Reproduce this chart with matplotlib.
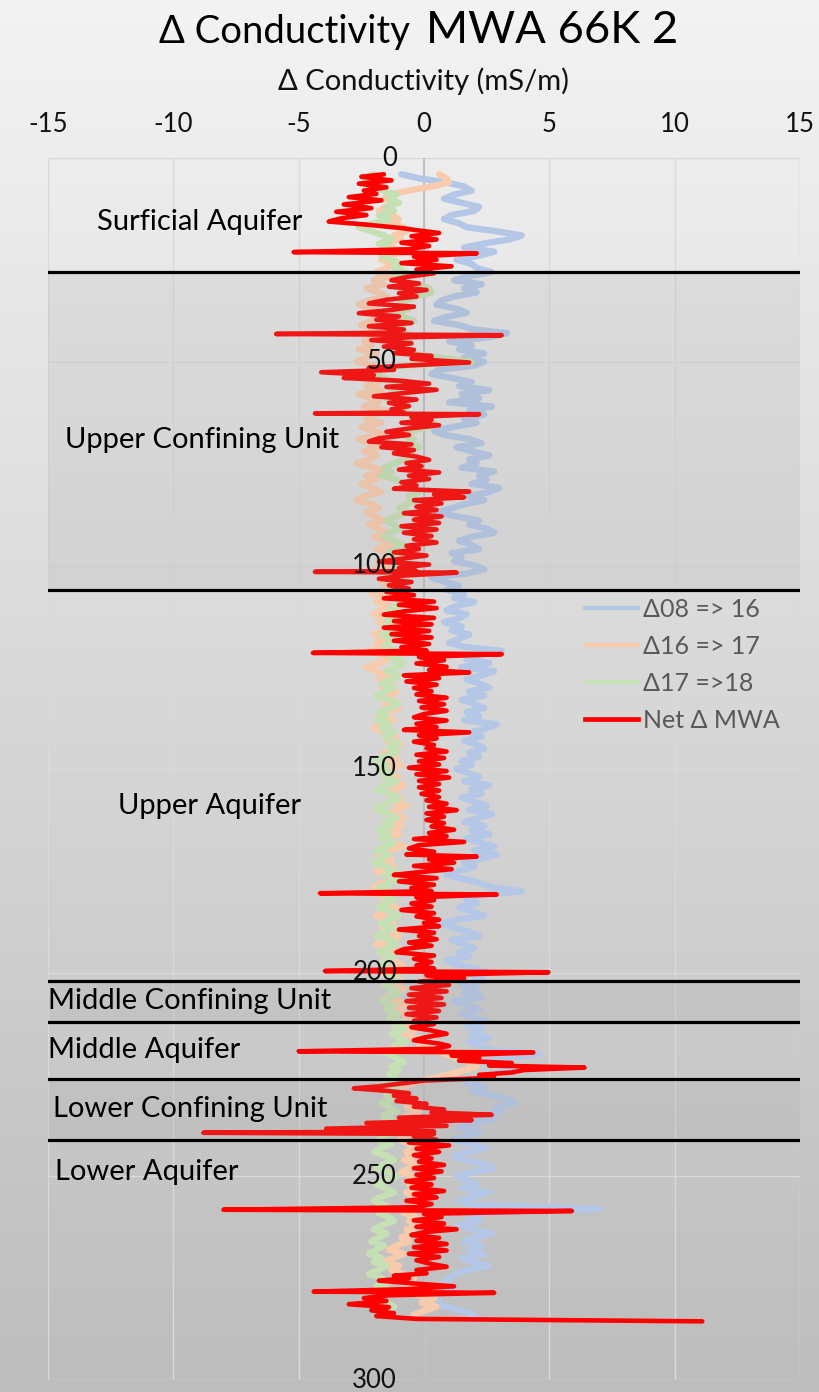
import numpy as np
import matplotlib
matplotlib.use('Agg')
import matplotlib.pyplot as plt
from matplotlib.lines import Line2D
from matplotlib.colors import LinearSegmentedColormap

plt.rcParams['font.family'] = ['Lato', 'DejaVu Sans']
plt.rcParams['axes.unicode_minus'] = False

# depth (ft) of the yearly difference logs, 1 ft spacing
depth = list(range(4, 285))

# Δ conductivity 2008 -> 2016 (mS/m)
d08_16 = [
    -0.9, -0.2, 0.9, 1.6, 1.9, 1.2, 0.8, 1.5, 2.2, 2.0,      # 4
    1.1, 0.8, 1.4, 1.7, 2.9, 3.9, 3.4, 2.4, 1.6, 2.8,        # 14
    2.2, 1.3, 1.9, 2.1, 2.7, 1.8, 1.2, 2.3, 1.6, 2.1,        # 24
    1.2, 0.7, 0.5, 1.3, 1.7, 0.9, 0.4, 1.4, 1.9, 3.3,        # 34
    2.6, 1.0, 1.9, 1.4, 2.4, 1.6, 2.4, 2.0, 0.6, 0.3,        # 44
    1.1, 1.9, 1.4, 2.6, 1.5, 2.2, 1.0, 2.7, 1.8, 2.4,        # 54
    1.6, 2.1, 1.2, 0.4, 0.8, 1.8, 2.3, 1.3, 1.9, 2.6,        # 64
    1.8, 2.1, 1.5, 2.8, 2.2, 2.5, 1.9, 3.0, 2.6, 1.8,        # 74
    2.4, 1.6, 1.1, 0.5, 1.3, 2.2, 1.8, 2.5, 2.8, 1.9,        # 84
    1.4, 1.9, 2.2, 1.1, 1.5, 1.2, 2.0, 2.4, 1.7, 0.3,        # 94
    0.8, 1.4, 0.9, 1.6, 1.2, 2.0, 1.3, 0.9, 1.7, 1.4,        # 104
    0.8, 1.5, 1.1, 1.8, 1.4, 1.0, 1.6, 3.1, 2.2, 1.7,        # 114
    2.6, 1.5, 2.8, 2.3, 1.7, 2.2, 2.6, 1.8, 2.4, 1.5,        # 124
    2.0, 2.4, 1.7, 2.2, 1.6, 2.9, 2.5, 1.9, 2.3, 1.6,        # 134
    2.1, 2.4, 1.8, 2.2, 1.5, 1.9, 1.3, 1.8, 2.2, 1.6,        # 144
    2.6, 1.9, 2.3, 1.5, 2.0, 2.5, 1.8, 2.7, 2.2, 1.6,        # 154
    2.4, 1.9, 2.6, 1.7, 2.2, 2.8, 2.0, 2.9, 2.3, 1.6,        # 164
    2.0, 1.4, 0.9, 1.6, 2.2, 2.7, 3.9, 2.2, 1.7, 2.1,        # 174
    1.4, 1.9, 2.4, 1.3, 0.7, 1.2, 1.8, 2.2, 1.1, 1.6,        # 184
    2.0, 1.4, 1.8, 0.9, 1.3, 2.1, 2.5, 2.0, 2.4, 1.5,        # 194
    2.1, 1.6, 2.3, 1.2, 1.8, 2.2, 1.5, 2.0, 2.5, 1.7,        # 204
    2.3, 1.9, 2.6, 1.8, 2.2, 2.8, 4.6, 3.1, 2.5, 3.6,        # 214
    3.2, 2.7, 2.1, 1.7, 2.4, 1.9, 2.6, 3.3, 3.6, 2.9,        # 224
    3.1, 2.4, 2.8, 1.9, 1.4, 2.2, 1.8, 1.2, 1.7, 2.5,        # 234
    1.8, 1.2, 1.6, 2.4, 2.8, 1.9, 1.3, 1.7, 2.1, 1.5,        # 244
    2.6, 2.0, 1.4, 1.9, 7.0, 2.4, 1.8, 2.2, 1.4, 1.9,        # 254
    2.7, 2.1, 1.6, 2.3, 1.8, 2.4, 1.5, 2.0, 2.6, 1.7,        # 264
    1.3, 1.0, 0.8, 1.2, 0.5, 0.2, 0.6, 0.4, 0.9, 1.5,        # 274
    2.0,                                                     # 284
]

# Δ conductivity 2016 -> 2017
d16_17 = [
    0.6, 0.9, 1.0, 0.3, -0.6, -1.4, -1.6, -1.1, -1.5, -1.8,
    -1.3, -1.0, -1.5, -0.8, -0.7, -1.2, -0.9, -1.6, -1.3, -0.8,
    -1.4, -1.7, -1.1, -1.5, -1.9, -1.3, -2.0, -1.6, -2.3, -1.8,
    -1.5, -2.2, -2.6, -1.9, -2.4, -1.7, -2.1, -2.5, -1.8, -2.2,
    -1.6, -2.4, -2.1, -2.6, -1.9, -2.3, -2.7, -2.0, -1.6, -2.2,
    -2.5, -1.8, -2.3, -1.7, -2.6, -2.1, -1.8, -2.4, -1.5, -2.0,
    -2.3, -1.7, -2.5, -2.0, -1.6, -2.6, -2.2, -1.8, -2.4, -1.9,
    -2.2, -2.7, -2.0, -1.6, -2.3, -1.9, -2.5, -2.1, -1.7, -2.4,
    -2.7, -2.1, -1.8, -2.3, -2.0, -1.6, -2.2, -1.8, -1.4, -2.0,
    -1.6, -1.3, -1.9, -1.5, -1.2, -1.8, -1.4, -2.0, -1.6, -1.3,
    -1.7, -1.2, -1.6, -2.1, -1.5, -1.9, -1.3, -1.7, -2.0, -1.4,
    -1.8, -1.3, -1.6, -2.0, -1.4, -1.9, -1.5, -2.2, -1.7, -1.4,
    -1.8, -2.3, -1.9, -1.5, -1.8, -1.3, -1.7, -1.1, -1.5, -1.2,
    -1.6, -1.0, -1.4, -1.8, -1.2, -1.6, -2.0, -1.4, -1.1, -1.5,
    -0.9, -1.3, -1.6, -1.1, -1.4, -0.9, -1.3, -1.6, -1.0, -1.4,
    -0.8, -1.2, -1.5, -0.9, -1.3, -0.7, -1.1, -1.4, -0.8, -1.2,
    -0.9, -1.4, -1.0, -1.6, -1.2, -0.8, -1.4, -1.8, -1.3, -1.6,
    -1.2, -1.9, -1.5, -1.1, -1.7, -2.0, -1.4, -1.8, -1.3, -1.6,
    -1.1, -1.5, -1.9, -1.4, -1.2, -1.7, -1.3, -1.0, -1.5, -1.9,
    -1.4, -1.1, -1.6, -1.2, -0.9, -1.4, -1.7, -1.2, -0.9, -1.3,
    -0.8, -1.2, -1.5, -1.0, -0.7, -1.1, -0.8, -0.5, -0.9, -0.6,
    -0.4, -0.8, -0.3, 0.1, -0.2, 0.4, 0.9, 1.3, 1.8, 2.1,
    1.6, 0.9, 0.3, -0.4, -0.8, -1.1, -0.6, -0.9, -0.3, -0.7,
    -0.2, -0.6, -1.0, -0.5, -0.9, -0.4, -0.7, -1.0, -0.6, -0.3,
    -0.7, -0.4, -0.8, -0.3, -0.6, -0.9, -0.4, -0.2, -0.6, -0.3,
    -0.7, -0.2, -0.5, -0.1, -0.4, -0.8, -0.3, -0.6, -0.2, -0.7,
    -0.4, -0.9, -0.6, -1.1, -1.4, -0.8, -1.2, -1.6, -1.0, -1.3,
    -0.8, -0.4, -0.9, -0.2, 0.3, -0.3, 0.4, -0.1, 0.5, 0.0,
    -0.4,
]

# Δ conductivity 2017 -> 2018
d17_18 = [
    -2.0, -2.4, -1.7, -2.2, -1.6, -1.1, -1.4, -1.0, -1.5, -1.2,
    -1.8, -1.4, -2.0, -2.6, -2.1, -1.6, -1.3, -1.8, -1.4, -1.1,
    -1.7, -1.3, -0.9, -1.2, -0.7, -1.1, -0.8, -0.4, 0.2, 0.3,
    -0.3, -0.7, -1.0, -0.6, -1.2, -0.8, -0.4, -0.9, -1.3, -0.7,
    -1.0, -0.6, -1.2, -0.8, -0.5, 0.6, 1.9, -0.9, -1.8, -2.1,
    -1.6, -1.2, -0.8, -1.3, -0.9, -1.5, -1.1, -0.7, -1.0, -0.5,
    -0.2, 0.4, 0.2, -0.5, -0.8, -0.4, -0.6, -0.2, -0.9, -0.5,
    -0.8, -1.2, -1.6, -1.3, -1.7, -1.1, -0.8, -0.5, -0.2, -0.6,
    -0.3, -0.7, -1.0, -0.6, -1.1, -1.5, -1.2, -0.9, -1.4, -1.6,
    -1.2, -0.8, -1.1, -1.4, -0.9, -1.3, -0.8, -1.2, -1.5, -1.0,
    -0.6, -1.0, -1.3, -0.9, -1.2, -0.7, -1.1, -1.4, -1.0, -1.5,
    -1.2, -1.6, -1.3, -1.7, -1.1, -1.4, -1.6, -1.2, -0.9, -1.3,
    -0.8, -1.1, -1.5, -1.0, -1.3, -1.7, -1.2, -1.6, -1.9, -1.4,
    -1.0, -1.3, -1.8, -1.5, -1.9, -1.4, -1.7, -1.2, -1.6, -1.3,
    -1.0, -1.4, -1.1, -1.6, -1.9, -1.5, -1.8, -1.3, -1.6, -1.1,
    -1.5, -1.9, -1.4, -1.0, -1.3, -1.7, -1.9, -1.4, -1.1, -1.6,
    -1.3, -1.8, -1.4, -1.7, -1.2, -1.5, -1.9, -1.4, -1.7, -2.0,
    -1.5, -1.2, -1.6, -1.1, -1.4, -1.8, -1.3, -1.6, -1.2, -1.5,
    -1.8, -1.3, -1.0, -1.4, -1.7, -1.2, -1.6, -1.9, -1.3, -1.1,
    -1.5, -1.8, -1.2, -1.5, -1.7, -1.3, -1.0, -1.4, -1.1, -1.6,
    -1.3, -1.0, -1.4, -1.7, -1.2, -1.5, -1.1, -1.4, -0.9, -1.2,
    -0.8, -1.3, -1.0, -0.7, -1.2, -0.9, -1.4, -1.1, -0.8, -1.3,
    -1.0, -1.4, -1.1, -1.6, -1.3, -1.0, -1.5, -1.2, -1.7, -1.4,
    -1.1, -1.6, -1.3, -1.8, -1.4, -1.0, -1.5, -1.8, -1.3, -1.7,
    -2.0, -1.5, -1.2, -1.6, -1.9, -1.4, -1.1, -1.6, -1.9, -1.5,
    -1.2, -1.7, -2.0, -1.6, -1.3, -1.8, -1.4, -1.2, -1.7, -2.0,
    -1.5, -1.8, -2.1, -1.6, -1.9, -2.2, -1.7, -2.0, -1.5, -1.8,
    -2.2, -1.7, -1.4, -1.9, -1.3, -1.6, -2.0, -1.5, -1.2, -1.6,
    -1.8,
]

# net change 2008 -> 2018 as (depth, mS/m), logged at finer spacing
net_mwa = [
    (4.0, -1.6), (4.6, -2.5), (5.5, -1.3), (6.3, -2.6), (7.2, -1.5), (8.0, -2.4),
    (8.8, -1.9), (9.6, -3.0), (10.4, -1.7), (11.4, -3.2), (12.3, -2.1), (13.2, -3.5),
    (14.0, -2.3), (14.8, -3.3), (15.6, -3.8), (16.3, -2.4), (17.2, -0.9), (17.8, -0.2),
    (18.4, 0.6), (19.2, -0.5), (20.0, 0.5), (20.8, -0.9), (21.6, 0.2), (22.4, -0.6),
    (23.1, -5.2), (23.4, 2.1), (24.2, -0.4), (25.0, 0.5), (25.8, -0.9), (26.6, 1.1),
    (27.4, -0.3), (28.3, 0.4), (29.2, -0.7),
    (30.0, -1.3), (30.8, -0.2), (31.6, -1.4), (32.4, 0.1), (33.2, -1.0), (34.0, -0.3),
    (34.8, -1.5), (35.7, -2.2), (36.5, -0.4), (37.3, -1.3), (38.1, -2.6), (38.9, -1.0),
    (39.7, -1.9), (40.5, -0.5), (41.3, -2.2), (42.1, -0.8), (42.9, -1.5), (43.2, -5.9),
    (43.5, 3.1), (44.0, -0.6), (44.7, -2.1), (45.5, -0.5), (46.3, -1.6), (47.1, -0.4),
    (47.9, -1.2), (48.6, 0.3), (49.3, -0.5), (50.2, 1.8), (50.8, -0.2), (51.5, -2.2),
    (52.0, -1.2), (52.6, -4.1), (53.3, -2.0), (54.0, -3.2), (54.7, -0.9), (55.4, 0.2),
    (56.2, -1.5), (56.9, 0.5), (57.7, -0.8), (58.5, -2.0), (59.3, -0.3),
    (60.1, -1.4), (60.9, -0.6), (61.7, -1.3), (62.5, -0.8), (62.7, -4.35), (62.9, 2.2),
    (63.6, -0.5), (64.3, 0.3), (65.0, -0.9), (65.6, 0.6), (66.4, -0.6), (67.2, -1.5),
    (68.0, -0.6), (68.8, -1.8), (69.6, -2.2), (70.3, -0.5), (71.0, -1.7), (71.7, -0.4),
    (72.5, -1.2), (73.3, -0.3), (74.1, 0.2), (74.9, -0.7), (75.7, -0.1), (76.5, -1.0),
    (77.2, 0.6), (78.0, -0.6), (78.8, 0.2), (79.6, -0.9), (80.4, -0.3), (81.2, -1.2),
    (81.9, 1.8), (82.6, 0.4), (83.3, 1.6), (84.0, -0.4), (84.8, 0.7), (85.6, -0.3),
    (86.4, 0.5), (87.2, -0.8), (88.0, 0.7), (88.8, -0.4), (89.6, 0.6),
    (90.4, -0.9), (91.2, 0.5), (92.0, -0.8), (92.8, 0.3), (93.6, -0.4), (94.4, 0.5),
    (95.2, -0.7), (96.0, -0.2), (96.8, -1.2), (97.6, 0.1), (98.4, -0.9), (99.1, -1.8),
    (99.8, 0.2), (100.6, -1.0), (101.4, -0.3), (101.6, -4.35), (101.8, 1.3), (102.5, -0.8),
    (103.3, -1.8), (104.1, -0.5), (104.9, -1.4), (105.7, -0.6), (106.5, -1.5), (107.3, -0.4),
    (108.1, -1.6), (108.9, 0.4), (109.7, -1.0), (110.5, 0.5), (111.3, -0.8), (112.1, -1.6),
    (112.9, 0.4), (113.7, -1.2), (114.5, 0.3), (115.3, -1.6), (116.1, 0.2), (116.9, -1.3),
    (117.7, 0.3), (118.5, -1.2), (119.3, 0.2),
    (120.1, -0.9), (120.9, 0.1), (121.5, -4.43), (121.8, 3.1), (122.5, -0.2), (123.3, 0.8),
    (124.1, -0.3), (124.9, 0.9), (125.7, 0.2), (126.3, 1.8), (127.0, -0.8), (127.7, 0.6),
    (128.5, -0.7), (129.3, 0.5), (130.1, -0.4), (130.9, 0.3), (131.7, -0.3), (132.5, 0.9),
    (133.3, -0.2), (134.1, 0.8), (134.9, -0.1), (135.7, 0.9), (136.5, 0.0), (137.3, -0.4),
    (138.1, 0.9), (138.9, -0.3), (139.7, 0.5), (140.4, -0.8), (141.0, 1.8), (141.7, -0.2),
    (142.5, 0.5), (143.3, -0.4), (144.1, 0.4), (144.9, 0.1), (145.7, 0.9), (146.5, -0.3),
    (147.3, 0.8), (148.1, -0.2), (148.9, 0.6),
    (149.7, -0.6), (150.5, 0.9), (151.3, -0.3), (152.1, 1.0), (152.9, -0.2), (153.7, 0.6),
    (154.5, -0.2), (155.3, 0.6), (156.1, -0.1), (156.9, 0.6), (157.7, 0.1), (158.5, 0.9),
    (159.3, 0.2), (160.1, 1.3), (160.9, 0.1), (161.7, 0.8), (162.5, 0.1), (163.3, 0.8),
    (164.1, 0.3), (164.9, 1.2), (165.7, 0.2), (166.5, 0.9), (167.2, -0.4), (167.9, 1.6),
    (168.7, -0.2), (169.5, -0.6), (170.3, 0.4), (171.0, -0.7), (171.5, 2.1), (172.2, 0.2),
    (173.0, 1.2), (173.8, -0.4), (174.6, 1.1), (175.4, -0.3), (176.0, -1.2), (176.8, 0.5),
    (177.6, -1.0), (178.4, 0.4), (179.2, -0.5),
    (180.0, 0.3), (180.5, -4.15), (180.8, 2.9), (181.5, -0.3), (182.2, 0.4), (183.0, -0.5),
    (183.8, 0.3), (184.6, -0.9), (185.4, 0.4), (186.2, -0.3), (187.0, 0.6), (187.8, 0.0),
    (188.6, 0.6), (189.4, -1.0), (190.2, 0.4), (191.0, -0.2), (191.8, 0.5), (192.6, -0.6),
    (193.4, 0.3), (194.2, -0.8), (195.0, -1.1), (195.8, 0.4), (196.6, -0.4), (197.4, 0.3),
    (198.2, -0.3), (199.0, 0.4), (199.6, -3.95), (199.9, 4.96), (200.6, 0.1), (201.4, 1.6),
    (202.2, -0.2), (203.0, 1.0), (203.8, -0.5), (204.6, 0.9), (205.4, -0.6), (206.2, 0.7),
    (207.0, -0.7), (207.8, 0.8),
    (208.6, -0.6), (209.4, 0.6), (210.2, -0.7), (211.0, 0.5), (211.8, -0.4), (212.6, 0.4),
    (213.4, -0.5), (214.2, 0.3), (215.0, 0.9), (215.8, 0.1), (216.6, -0.4), (217.4, 0.6),
    (218.0, 1.0), (218.7, 0.4), (219.3, -5.0), (219.6, 4.36), (220.3, 1.1), (220.9, 2.2),
    (221.6, 1.4), (222.2, 3.5), (222.8, 2.6), (223.3, 6.4), (223.9, 4.0), (224.5, 3.5),
    (225.1, 2.2), (225.8, 2.8), (226.5, 0.0), (227.2, -0.9), (227.9, -1.8), (228.4, -2.8),
    (229.0, -1.5), (229.6, -0.6), (230.2, -1.2), (230.9, -0.3), (231.5, -1.1), (232.2, 0.1),
    (232.9, -0.4), (233.6, 0.8), (234.3, 0.3), (234.9, 2.7), (235.6, -1.0), (236.2, 1.9),
    (236.9, -2.3), (237.6, 0.9), (238.3, -3.9), (239.0, 0.4), (239.3, -8.8), (239.6, 0.4),
    (240.3, -0.4), (241.0, 0.5), (241.7, -0.6), (242.4, 1.0), (243.2, -0.3), (244.0, 0.6),
    (244.8, -0.4), (245.6, 0.3), (246.4, -0.2), (247.2, 0.8), (248.0, -0.4), (248.8, 0.7),
    (249.6, -0.3), (250.4, 0.4), (251.2, -0.7), (252.0, 0.3), (252.8, -0.5), (253.6, 0.8),
    (254.4, -0.4), (255.2, 0.5), (256.0, -0.7), (256.8, 0.3), (257.6, -0.3), (258.2, -8.0),
    (258.5, 5.9), (259.2, 0.0), (260.0, 0.7), (260.8, -0.4), (261.6, 0.8), (262.4, -0.3),
    (263.0, 1.3), (263.7, 0.0), (264.4, -0.5), (265.1, 0.6), (265.8, -0.3), (266.6, 0.9),
    (267.4, -0.4), (268.2, 0.9), (269.0, -0.6), (269.8, 0.6), (270.6, -0.3), (271.4, 0.2),
    (272.2, 0.9), (273.0, -0.3), (273.8, 0.1), (274.4, -1.2), (275.0, -0.6), (275.6, -1.8),
    (276.3, -0.4), (277.0, 1.2), (277.7, -0.7), (278.3, -4.4), (278.6, 2.8), (279.2, -1.4),
    (279.9, -2.4), (280.6, -1.5), (281.4, -3.0), (282.1, -1.4), (282.9, -2.1), (283.6, -1.2),
    (284.3, -1.9), (285.0, -0.3), (285.6, 11.1),
]

# hydrostratigraphic contacts (ft) and confining intervals
contacts = [28, 106, 202, 212, 226, 241]
confining = [(28, 106), (202, 212), (226, 241)]
units = ['Surficial Aquifer', 'Upper Confining Unit', 'Upper Aquifer',
         'Middle Confining Unit', 'Middle Aquifer', 'Lower Confining Unit',
         'Lower Aquifer']

series = ['Δ08 => 16', 'Δ16 => 17', 'Δ17 =>18', 'Net Δ MWA']
colors = ['#b4c7e7', '#f8cbad', '#c5e0b4', '#ff0000']

W, H = 820, 1392
fig = plt.figure(figsize=(W / 100, H / 100), dpi=100)

# soft grey gradient behind everything
bg = fig.add_axes([0, 0, 1, 1], zorder=-10)
grad = np.linspace(0, 1, 256)[:, None]
bg.imshow(grad, aspect='auto', extent=[0, 1, 0, 1], origin='upper',
          cmap=LinearSegmentedColormap.from_list('bg', ['#f3f3f3', '#bdbdbd']))
bg.axis('off')

ax = fig.add_axes([48 / W, 12 / H, 752 / W, 1222 / H])
ax.set_facecolor('none')
ax.set_xlim(-15, 15)
ax.set_ylim(300, 0)
ax.set_xticks(range(-15, 16, 5))
ax.set_yticks(range(0, 301, 50))
ax.xaxis.tick_top()
for s in ax.spines.values():
    s.set_color('none')
ax.spines['left'].set_position(('data', 0))
ax.tick_params(axis='x', length=0, pad=15, labelsize=18.5, labelcolor='#111111')
ax.tick_params(axis='y', length=0, pad=19.5, labelsize=18.5, labelcolor='#111111')
for lbl in ax.get_yticklabels():
    lbl.set_verticalalignment('center')
# tick labels sit above the logs
ax.xaxis.set_zorder(6)
ax.yaxis.set_zorder(6)

# gridlines
for gx in range(-15, 16, 5):
    ax.axvline(gx, color='#d9d9d9', lw=1.0, zorder=0.5)
for gy in range(0, 301, 50):
    ax.axhline(gy, color='#d9d9d9', lw=1.0, zorder=0.5)
ax.axvline(0, color='#bcbcbc', lw=1.3, zorder=0.8)

# yearly differences, then the net change on top
style = dict(solid_joinstyle='round', solid_capstyle='round')
ax.plot(d08_16, depth, color=colors[0], lw=4.6, zorder=2, **style)
ax.plot(d16_17, depth, color=colors[1], lw=4.6, zorder=2.1, **style)
ax.plot(d17_18, depth, color=colors[2], lw=4.6, zorder=2.2, **style)
net_d = [p[0] for p in net_mwa]
net_v = [p[1] for p in net_mwa]
ax.plot(net_v, net_d, color=colors[3], lw=3.3, zorder=3, **style)

# shaded confining units and contact lines
for top, bot in confining:
    ax.axhspan(top, bot, color='#9a9a9a', alpha=0.15, lw=0, zorder=4)
for c in contacts:
    ax.axhline(c, color='black', lw=2.3, zorder=5)

label_xy = [(-13.04, 15.7), (-14.32, 69.2), (-12.2, 159.1), (-15.0, 207.0),
            (-15.0, 219.0), (-14.8, 233.5), (-14.72, 249.0)]
for name, (lx, ly) in zip(units, label_xy):
    ax.text(lx, ly, name, fontsize=21, color='black', ha='left', va='center',
            zorder=6)

handles = [Line2D([], [], color=colors[0], lw=3.0),
           Line2D([], [], color=colors[1], lw=3.0),
           Line2D([], [], color=colors[2], lw=3.0),
           Line2D([], [], color=colors[3], lw=3.4)]
leg = ax.legend(handles, series, loc='upper left', bbox_to_anchor=(0.714, 0.6403),
                frameon=False, borderpad=0, borderaxespad=0, fontsize=18,
                handlelength=2.12, handletextpad=0.2, labelspacing=0.56,
                labelcolor='#595959')
leg.set_zorder(7)

# title in two sizes, axis label above the ticks
fig.text(410 / W, 1 - 43 / H, 'Δ Conductivity', fontsize=27.5, ha='right',
         va='baseline', color='black')
fig.text(426 / W, 1 - 43 / H, 'MWA 66K 2', fontsize=32.7, ha='left',
         va='baseline', color='black')
fig.text(424 / W, 1 - 90 / H, 'Δ Conductivity (mS/m)', fontsize=21,
         ha='center', va='baseline', color='#111111')

fig.savefig('out.png', dpi=100)
